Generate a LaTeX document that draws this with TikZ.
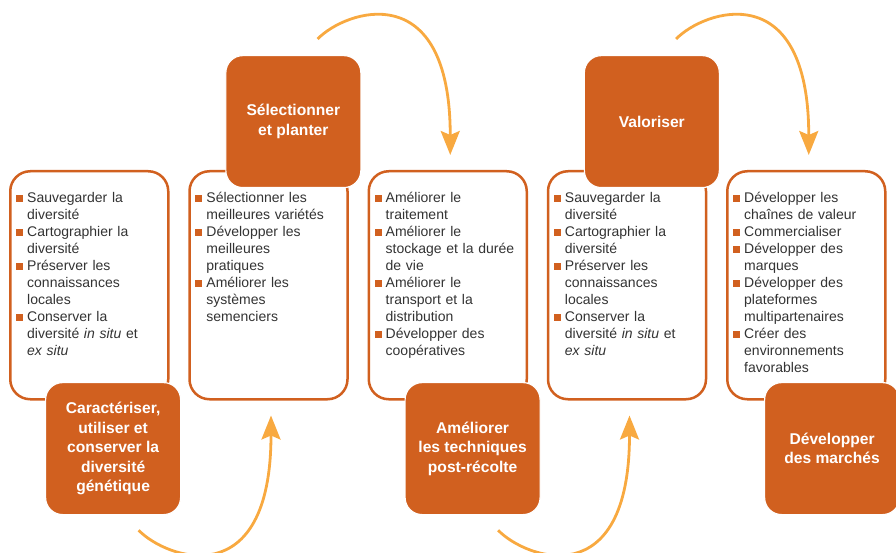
\documentclass[tikz,border=0pt]{standalone}
\usepackage{fontspec}
\setmainfont{Liberation Sans}
\usetikzlibrary{arrows.meta}
\definecolor{orng}{HTML}{D1601F}
\definecolor{arr}{HTML}{F8A940}
\definecolor{txt}{HTML}{333333}
\newcommand\bul{\rule{0pt}{13pt}\llap{\textcolor{orng}{\rule{7pt}{7pt}}\hspace{4pt}}}
\tikzset{
  outbox/.style={draw=orng, line width=2.5pt, rounded corners=20pt, fill=white,
    minimum width=158pt, minimum height=228pt, inner sep=0pt, anchor=north west},
  fillbox/.style={fill=orng, draw=white, line width=1.2pt, rounded corners=17pt,
    minimum width=135pt, minimum height=132pt, inner sep=0pt, anchor=north west,
    text=white, font=\fontsize{15.6}{19.5}\selectfont\bfseries, align=center},
  items/.style={text=txt, font=\fontsize{14}{17}\selectfont, align=left,
    text width=150pt, inner sep=0pt, anchor=north west},
  flow/.style={draw=arr, line width=2.8pt, -{Stealth[length=24pt,width=19pt,inset=4pt]}},
}
\begin{document}
\begin{tikzpicture}[x=1pt,y=-1pt]
\useasboundingbox (0,0) rectangle (896,553);
% outline boxes
\node[outbox] (b1) at (9,170) {};
\node[outbox] (b2) at (188.25,170) {};
\node[outbox] (b3) at (367.5,170) {};
\node[outbox] (b4) at (546.75,170) {};
\node[outbox] (b5) at (726,170) {};
% item lists
\node[items] (t1) at (27,189) {\bul Sauvegarder la\\diversité\\\bul Cartographier la\\diversité\\\bul Préserver les\\connaissances\\locales\\\bul Conserver la\\diversité \textit{in situ} et\\\textit{ex situ}};
\node[items] (t2) at (206.25,189) {\bul Sélectionner les\\meilleures variétés\\\bul Développer les\\meilleures\\pratiques\\\bul Améliorer les\\systèmes\\semenciers};
\node[items] (t3) at (385.5,189) {\bul Améliorer le\\traitement\\\bul Améliorer le\\stockage et la durée\\de vie\\\bul Améliorer le\\transport et la\\distribution\\\bul Développer des\\coopératives};
\node[items] (t4) at (564.75,189) {\bul Sauvegarder la\\diversité\\\bul Cartographier la\\diversité\\\bul Préserver les\\connaissances\\locales\\\bul Conserver la\\diversité \textit{in situ} et\\\textit{ex situ}};
\node[items] (t5) at (744,189) {\bul Développer les\\chaînes de valeur\\\bul Commercialiser\\\bul Développer des\\marques\\\bul Développer des\\plateformes\\multipartenaires\\\bul Créer des\\environnements\\favorables};
% filled boxes
\node[fillbox] (f1) at (45,382) {Caractériser,\\utiliser et\\conserver la\\diversité\\génétique};
\node[fillbox] (f2) at (225.25,55) {Sélectionner\\et planter};
\node[fillbox] (f3) at (404.5,382) {Améliorer\\les techniques\\post-récolte};
\node[fillbox] (f4) at (583.75,55) {Valoriser};
\node[fillbox] (f5) at (764,382) {Développer\\des marchés};
% arrows
\draw[flow] ([xshift=25.5pt,yshift=-15pt]f1.south) .. controls +(28,29) and +(0,180) .. ([xshift=2.5pt,yshift=-15pt]b2.south);
\draw[flow] ([xshift=24.25pt,yshift=16pt]f2.north) .. controls +(28,-29) and +(0,-180) .. ([xshift=2.5pt,yshift=15pt]b3.north);
\draw[flow] ([xshift=25.5pt,yshift=-15pt]f3.south) .. controls +(28,29) and +(0,180) .. ([xshift=2.5pt,yshift=-15pt]b4.south);
\draw[flow] ([xshift=24.25pt,yshift=16pt]f4.north) .. controls +(28,-29) and +(0,-180) .. ([xshift=2.5pt,yshift=15pt]b5.north);
\end{tikzpicture}
\end{document}
